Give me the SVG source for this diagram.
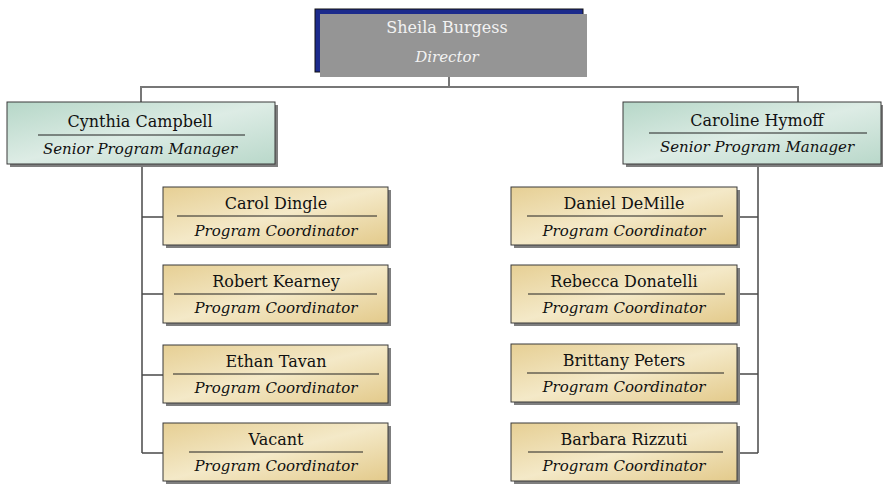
<svg xmlns="http://www.w3.org/2000/svg" width="883" height="485" viewBox="0 0 883 485">
<defs>
<linearGradient id="gold" x1="0" y1="0" x2="1" y2="1">
<stop offset="0" stop-color="#e6cf94"/>
<stop offset="0.5" stop-color="#f4e9c8"/>
<stop offset="1" stop-color="#e3ca8b"/>
</linearGradient>
<linearGradient id="teal" x1="0" y1="0" x2="1" y2="1">
<stop offset="0" stop-color="#b6d7c8"/>
<stop offset="0.5" stop-color="#ddece5"/>
<stop offset="1" stop-color="#b9d8ca"/>
</linearGradient>
</defs>
<style>
.sh{fill:#7f7f7f}
.gold{fill:url(#gold);stroke:#3a3a3a;stroke-width:1}
.teal{fill:url(#teal);stroke:#3a3a3a;stroke-width:1}
.rule{stroke:#222;stroke-width:1}
.nm{font-family:"DejaVu Serif",serif;font-size:16px;fill:#111;text-anchor:middle}
.rl{font-family:"DejaVu Serif",serif;font-size:15px;font-style:italic;fill:#111;text-anchor:middle}
.con{fill:none;stroke:#4a4a4a;stroke-width:1.5}
</style>
<g id="connectors">
<path class="con" d="M449 77V87"/>
<path class="con" style="stroke:#777;stroke-width:2" d="M141 102V87H798V102"/>
<path class="con" d="M142 164V453M142 217H163M142 294H163M142 375H163M142 453H163"/>
<path class="con" d="M758 165V453M740 217H758M740 294H758M740 374H758M740 453H758"/>
</g>
<g id="sheila">
<rect x="315" y="9" width="268" height="63" fill="#1c2b8c" stroke="#111" stroke-width="1"/>
<rect x="320" y="14" width="267" height="63" fill="#959595"/>
<text x="447" y="33" class="nm" style="fill:#f2f2f2">Sheila Burgess</text>
<text x="447" y="62" class="rl" style="fill:#f2f2f2">Director</text>
</g>
<g id="cynthia">
<rect class="sh" x="10" y="105" width="268" height="62"/>
<rect class="teal" x="7" y="102" width="268" height="62"/>
<text x="140" y="127" class="nm">Cynthia Campbell</text>
<line class="rule" x1="38" y1="135" x2="245" y2="135"/>
<text x="140" y="154" class="rl">Senior Program Manager</text>
</g>
<g id="caroline">
<rect class="sh" x="626" y="105" width="258" height="62"/>
<rect class="teal" x="623" y="102" width="258" height="62"/>
<text x="757" y="126" class="nm">Caroline Hymoff</text>
<line class="rule" x1="649" y1="133" x2="867" y2="133"/>
<text x="757" y="152" class="rl">Senior Program Manager</text>
</g>
<g id="carol">
<rect class="sh" x="166" y="190" width="225" height="58"/>
<rect class="gold" x="163" y="187" width="225" height="58"/>
<text x="276" y="209" class="nm">Carol Dingle</text>
<line class="rule" x1="177" y1="216" x2="377" y2="216"/>
<text x="276" y="236" class="rl">Program Coordinator</text>
</g>
<g id="robert">
<rect class="sh" x="166" y="268" width="225" height="58"/>
<rect class="gold" x="163" y="265" width="225" height="58"/>
<text x="276" y="287" class="nm">Robert Kearney</text>
<line class="rule" x1="174" y1="294" x2="377" y2="294"/>
<text x="276" y="313" class="rl">Program Coordinator</text>
</g>
<g id="ethan">
<rect class="sh" x="166" y="348" width="225" height="58"/>
<rect class="gold" x="163" y="345" width="225" height="58"/>
<text x="276" y="367" class="nm">Ethan Tavan</text>
<line class="rule" x1="173" y1="374" x2="379" y2="374"/>
<text x="276" y="393" class="rl">Program Coordinator</text>
</g>
<g id="vacant">
<rect class="sh" x="166" y="426" width="225" height="58"/>
<rect class="gold" x="163" y="423" width="225" height="58"/>
<text x="276" y="445" class="nm">Vacant</text>
<line class="rule" x1="189" y1="452" x2="363" y2="452"/>
<text x="276" y="471" class="rl">Program Coordinator</text>
</g>
<g id="daniel">
<rect class="sh" x="514" y="190" width="226" height="58"/>
<rect class="gold" x="511" y="187" width="226" height="58"/>
<text x="624" y="209" class="nm">Daniel DeMille</text>
<line class="rule" x1="527" y1="216" x2="723" y2="216"/>
<text x="624" y="236" class="rl">Program Coordinator</text>
</g>
<g id="rebecca">
<rect class="sh" x="514" y="268" width="226" height="58"/>
<rect class="gold" x="511" y="265" width="226" height="58"/>
<text x="624" y="287" class="nm">Rebecca Donatelli</text>
<line class="rule" x1="528" y1="294" x2="725" y2="294"/>
<text x="624" y="313" class="rl">Program Coordinator</text>
</g>
<g id="brittany">
<rect class="sh" x="514" y="347" width="226" height="58"/>
<rect class="gold" x="511" y="344" width="226" height="58"/>
<text x="624" y="366" class="nm">Brittany Peters</text>
<line class="rule" x1="527" y1="373" x2="724" y2="373"/>
<text x="624" y="392" class="rl">Program Coordinator</text>
</g>
<g id="barbara">
<rect class="sh" x="514" y="426" width="226" height="58"/>
<rect class="gold" x="511" y="423" width="226" height="58"/>
<text x="624" y="445" class="nm">Barbara Rizzuti</text>
<line class="rule" x1="528" y1="452" x2="723" y2="452"/>
<text x="624" y="471" class="rl">Program Coordinator</text>
</g>
</svg>
